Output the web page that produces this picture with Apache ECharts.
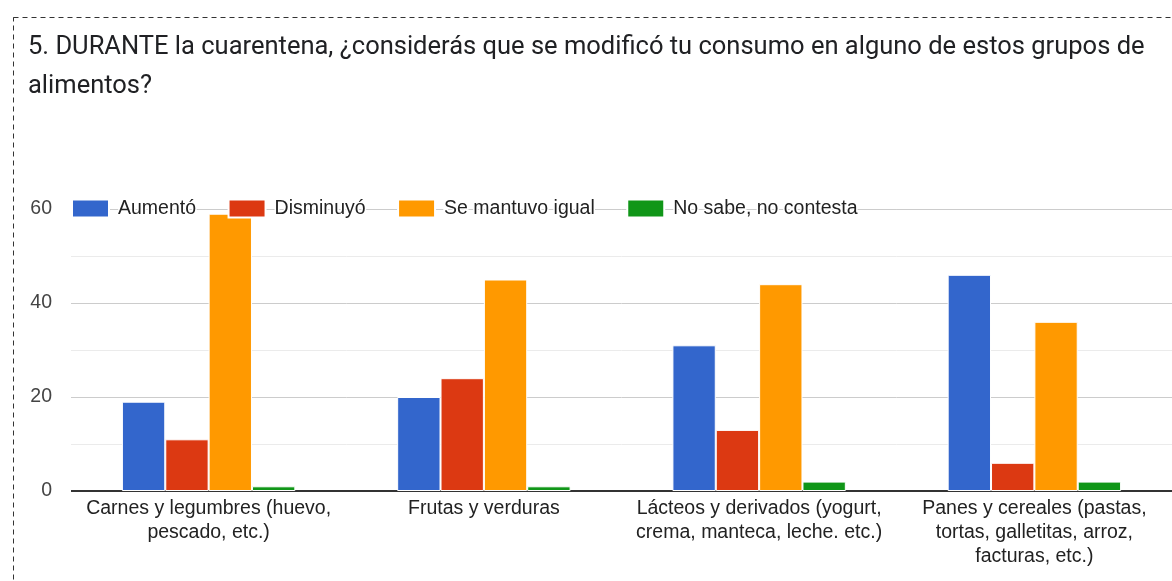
<!DOCTYPE html>
<html>
<head>
<meta charset="utf-8">
<script src="https://cdn.jsdelivr.net/npm/echarts@6/dist/echarts.min.js"></script>
<style>
  html, body { margin: 0; padding: 0; background: #fff; }
  #chart { width: 1172px; height: 581px; }
</style>
</head>
<body>
<div id="chart"></div>
<script>
// Food groups (x categories, with their line breaks)
const categories = [
  'Carnes y legumbres (huevo,\npescado, etc.)',
  'Frutas y verduras',
  'Lácteos y derivados (yogurt,\ncrema, manteca, leche. etc.)',
  'Panes y cereales (pastas,\ntortas, galletitas, arroz,\nfacturas, etc.)'
];

// Answers per group
const aumento = [19, 20, 31, 46];
const disminuyo = [11, 24, 13, 6];
const seMantuvo = [59, 45, 44, 36];
const noSabe = [1, 1, 2, 2];

const seriesNames = ['Aumentó', 'Disminuyó', 'Se mantuvo igual', 'No sabe, no contesta'];
const seriesValues = [aumento, disminuyo, seMantuvo, noSabe];
const seriesColors = ['#3366cc', '#dc3912', '#ff9900', '#109618'];

const yMax = 60;

const titleText = '5. DURANTE la cuarentena, ¿considerás que se modificó tu consumo en alguno de estos grupos de\nalimentos?';

const labelFont = '"Liberation Sans", Arial, sans-serif';

const chart = echarts.init(document.getElementById('chart'), null, { renderer: 'canvas' });

chart.setOption({
  animation: false,
  textStyle: { fontFamily: labelFont },
  title: {
    text: titleText,
    left: 23,
    top: 23,
    textStyle: {
      fontFamily: 'Roboto',
      fontSize: 25.5,
      fontWeight: 'normal',
      color: '#202124',
      lineHeight: 39
    }
  },
  legend: {
    left: 71,
    top: 197,
    padding: 0,
    z: 10,
    itemWidth: 37,
    itemHeight: 18,
    itemGap: 30,
    icon: 'rect',
    textStyle: {
      fontFamily: labelFont,
      fontSize: 19.5,
      color: '#222',
      textBorderColor: '#fff',
      textBorderWidth: 3,
      padding: [0, 1, 0, 4]
    },
    data: seriesNames
  },
  grid: {
    left: 71,
    top: 209,
    width: 1112,
    bottom: 90,
    containLabel: false
  },
  xAxis: {
    type: 'category',
    data: categories,
    axisLine: { show: false },
    axisTick: { show: false },
    axisLabel: {
      interval: 0,
      margin: 6,
      fontFamily: labelFont,
      fontSize: 19.5,
      lineHeight: 24,
      color: '#222',
      align: 'center'
    }
  },
  yAxis: {
    type: 'value',
    min: 0,
    max: yMax,
    interval: 20,
    axisLine: { show: false },
    axisTick: { show: false },
    axisLabel: {
      margin: 19,
      fontFamily: labelFont,
      fontSize: 19.5,
      color: '#444'
    },
    splitLine: { lineStyle: { color: '#cccccc', width: 1 } },
    minorTick: { show: false, splitNumber: 2 },
    minorSplitLine: { show: true, lineStyle: { color: '#ebebeb', width: 1 } }
  },
  graphic: [
    {
      type: 'rect',
      silent: true,
      z: 100,
      shape: { x: 13.5, y: 17.5, width: 1300, height: 700 },
      style: { fill: 'none', stroke: '#333', lineWidth: 1, lineDash: [5, 4] }
    }
  ],
  series: seriesNames.map((name, i) => ({
    name: name,
    type: 'bar',
    data: seriesValues[i],
    barGap: '0%',
    barCategoryGap: '37%',
    itemStyle: { color: seriesColors[i], borderColor: '#fff', borderWidth: 1 },
    markLine: i === 0 ? {
      silent: true,
      symbol: 'none',
      z: 1,
      label: { show: false },
      data: [
        { yAxis: 0, lineStyle: { color: '#333', width: 2, type: 'solid' } },
        { yAxis: yMax, lineStyle: { color: '#cccccc', width: 1, type: 'solid' } }
      ]
    } : undefined
  }))
});
</script>
</body>
</html>
